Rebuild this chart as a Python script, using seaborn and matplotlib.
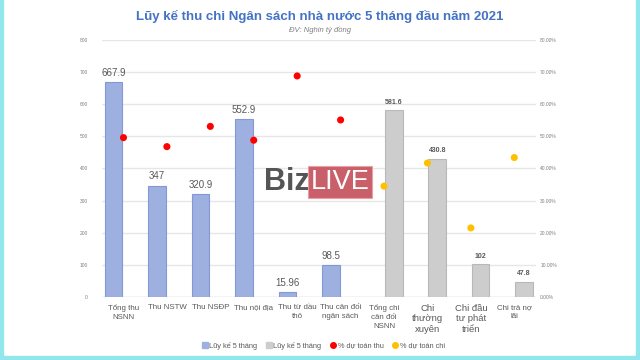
import numpy as np
import pandas as pd
import matplotlib
matplotlib.use("Agg")
import matplotlib.pyplot as plt
from matplotlib.patches import Rectangle
from matplotlib.lines import Line2D
from matplotlib.ticker import FuncFormatter, MultipleLocator
import seaborn as sns

# data
categories = ["Tổng thu\nNSNN", "Thu NSTW", "Thu NSĐP", "Thu nội địa",
              "Thu từ dầu\nthô", "Thu cân đối\nngân sách", "Tổng chi\ncân đối\nNSNN",
              "Chi\nthường\nxuyên", "Chi đầu\ntư phát\ntriển", "Chi trả nợ\nlãi"]
thu_values = [667.9, 347, 320.9, 552.9, 15.96, 98.5, np.nan, np.nan, np.nan, np.nan]
chi_values = [np.nan, np.nan, np.nan, np.nan, np.nan, np.nan, 581.6, 430.8, 102, 47.8]
pct_thu = [49.6, 46.8, 53.1, 48.8, 68.8, 55.1]
pct_chi = [34.5, 41.7, 21.5, 43.4]
series_names = ["Lũy kế 5 tháng (thu)", "Lũy kế 5 tháng (chi)"]

df = pd.DataFrame({
    "category": categories * 2,
    "series": [series_names[0]] * len(categories) + [series_names[1]] * len(categories),
    "value": thu_values + chi_values,
}).dropna()

sns.set_theme(style="white")
plt.rcParams["font.family"] = ["Liberation Sans", "DejaVu Sans"]

BLUE = "#9db0e0"
GRAY = "#cdcdcd"
LABEL_GRAY = "#595959"

fig = plt.figure(figsize=(6.4, 3.6), dpi=100)
ax = fig.add_axes([0.159, 0.175, 0.6785, 0.714])

sns.barplot(data=df, x="category", y="value", hue="series", order=categories,
            hue_order=series_names, palette=[BLUE, GRAY], width=0.9, gap=0.1,
            dodge=True, ax=ax, legend=False, saturation=1)

# bar edges and labels
edge_cols = ["#8199d6", "#b9b9b9"]
for i, cont in enumerate(ax.containers):
    for b in cont:
        b.set_edgecolor(edge_cols[i])
        b.set_linewidth(0.8)
    vals = [b.get_height() for b in cont]
    labels = [f"{v:g}" for v in vals]
    if i == 0:
        ax.bar_label(cont, labels=labels, padding=3, fontsize=7, color=LABEL_GRAY)
    else:
        ax.bar_label(cont, labels=labels, padding=3, fontsize=5, color=LABEL_GRAY,
                     fontweight="bold")

ax.set_xlim(-0.5, len(categories) - 0.5)
ax.set_ylim(0, 800)
ax.yaxis.set_major_locator(MultipleLocator(100))
ax.grid(axis="y", color="#e6e6e6", linewidth=1)
ax.set_axisbelow(True)
for s in ax.spines.values():
    s.set_visible(False)
ax.axhline(0, color="#d9d9d9", linewidth=1, zorder=0)
ax.set_xlabel("")
ax.set_ylabel("")
ax.tick_params(axis="y", labelsize=3.5, labelcolor="#7f7f7f", length=0, pad=10)
ax.tick_params(axis="x", labelsize=5.7, labelcolor=LABEL_GRAY, length=0, pad=5)
for lbl in ax.get_xticklabels():
    lbl.set_linespacing(1.45)
# the two "Chi" labels are set a little larger in the original
for lbl in ax.get_xticklabels()[7:9]:
    lbl.set_fontsize(6.8)
    lbl.set_linespacing(1.2)

# percentage dots on a second axis
ax2 = ax.twinx()
x_thu = list(range(len(pct_thu)))
x_chi = list(range(len(pct_thu), len(pct_thu) + len(pct_chi)))
sns.scatterplot(x=x_thu, y=pct_thu, color="#ff0000", s=26, edgecolor="none", ax=ax2)
sns.scatterplot(x=x_chi, y=pct_chi, color="#ffc000", s=26, edgecolor="none", ax=ax2)
ax2.set_ylim(0, 80)
ax2.yaxis.set_major_locator(MultipleLocator(10))
ax2.yaxis.set_major_formatter(FuncFormatter(lambda v, p: f"{v:.2f}%"))
ax2.tick_params(axis="y", labelsize=3.5, labelcolor="#7f7f7f", length=0, pad=3)
for s in ax2.spines.values():
    s.set_visible(False)
ax2.set_ylabel("")
ax2.grid(False)

# titles
fig.text(0.5, 0.955, "Lũy kế thu chi Ngân sách nhà nước 5 tháng đầu năm 2021",
         ha="center", va="center", fontsize=9.5, fontweight="bold", color="#4472c4")
fig.text(0.5, 0.918, "ĐV: Nghin tỷ đồng", ha="center", va="center", fontsize=5.5,
         style="italic", color="#7f7f7f")

# watermark
fig.text(0.413, 0.495, "Biz", ha="left", va="center", fontsize=22, fontweight="bold",
         color="#555555")
fig.text(0.485, 0.495, "LIVE", ha="left", va="center", fontsize=19.5, color="white",
         bbox=dict(boxstyle="square,pad=0.1", facecolor="#c95f69", edgecolor="#e8a0a6",
                   linewidth=0.8))

# legend
handles = [
    Line2D([], [], marker="s", linestyle="none", color=BLUE, markersize=4,
           label="Lũy kế 5 tháng"),
    Line2D([], [], marker="s", linestyle="none", color=GRAY, markersize=4,
           label="Lũy kế 5 tháng"),
    Line2D([], [], marker="o", linestyle="none", color="#ff0000", markersize=4,
           label="% dự toán thu"),
    Line2D([], [], marker="o", linestyle="none", color="#ffc000", markersize=4,
           label="% dự toán chi"),
]
fig.legend(handles=handles, loc="center", bbox_to_anchor=(0.505, 0.04), ncol=4,
           frameon=False, fontsize=5.3, labelcolor=LABEL_GRAY, handletextpad=0.2,
           columnspacing=1.2, handlelength=0.8)

# cyan frame
frame = "#92e7ec"
fig.add_artist(Rectangle((0, 0), 3 / 640, 1, transform=fig.transFigure, color=frame))
fig.add_artist(Rectangle((1 - 4 / 640, 0), 4 / 640, 1, transform=fig.transFigure, color=frame))
fig.add_artist(Rectangle((0, 0), 1, 4 / 360, transform=fig.transFigure, color=frame))

fig.savefig("out.png", dpi=100)
